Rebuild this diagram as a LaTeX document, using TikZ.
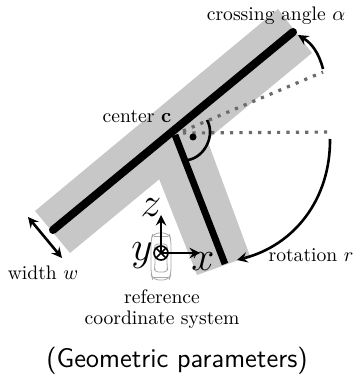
\documentclass[tikz,border=0pt]{standalone}
\definecolor{roadgray}{gray}{0.78}
\definecolor{dotgray}{gray}{0.42}
\definecolor{cargray}{gray}{0.66}
\tikzset{
	road/.style={fill=roadgray,draw=none},
	centerline/.style={line width=4pt,black,line cap=round},
	refline/.style={line width=1.6pt,dotgray,dash pattern=on 1.6pt off 3.1pt},
	dimarrow/.style={line width=1.3pt,black,<->},
	bendarrow/.style={line width=1.3pt,black,->},
	axisarrow/.style={line width=1.3pt,black,->},
	carline/.style={line width=0.4pt,cargray},
	bigmath/.style={font=\fontsize{20}{20}\selectfont},
	textlabel/.style={font=\fontsize{9.8}{11}\selectfont}
}
\begin{document}
\begin{tikzpicture}[>=stealth,line join=round,x=0.5pt,y=-0.5pt]
	\useasboundingbox (0,0) rectangle (355,379);
	\coordinate (A1) at (35,211);
	\coordinate (A2) at (70,253);
	\coordinate (A3) at (312,53);
	\coordinate (A4) at (278,9);
	\coordinate (B1) at (150,156);
	\coordinate (B2) at (197,275);
	\coordinate (B3) at (250,256);
	\coordinate (B4) at (205,134);
	\coordinate (S) at (53,230);
	\coordinate (E) at (293,32);
	\coordinate (C) at (175,135);
	\coordinate (F) at (225,264);
	\coordinate (O) at (183,131);
	\coordinate (P) at (323,72);
	\coordinate (Q) at (333,132);
	\coordinate (O2) at (183,133);
	\coordinate (M) at (193,137);
	\coordinate (R1) at (207,120);
	\coordinate (R2) at (188,160);
	\coordinate (W1) at (28,217);
	\coordinate (W2) at (62,258);
	\coordinate (Y) at (161,253);
	\coordinate (Z) at (161,215);
	\coordinate (X) at (200,253);
	\coordinate (G1) at (330,139);
	\coordinate (G2) at (237,260);
	\coordinate (H1) at (323,69);
	\coordinate (H2) at (298,35);

	\fill[road] (A1)--(A2)--(A3)--(A4)--cycle;
	\fill[road] (B1)--(B2)--(B3)--(B4)--cycle;

	% car below the axes
	\draw[carline,rounded corners=3pt] (151,240)--(153,233)--(169,233)--(171,240)--(171,274)--(169,280)--(153,280)--(151,274)--cycle;
	\draw[carline,rounded corners=2pt] (154,244)--(168,244)--(167,252)--(167,266)--(168,272)--(154,272)--(155,266)--(155,252)--cycle;
	\draw[carline] (154,236)--(168,236) (154,277)--(168,277);

	\draw[centerline] (S)--(E);
	\draw[line width=3.4pt,black] (C)--(F);
	\draw[refline] (O2)--(Q);
	\draw[refline] (O)--(P);

	\fill[black] (M) circle (3.5);
	\draw[line width=1.3pt,black] (R1) to[bend left=55] (R2);

	\draw[bendarrow] (H1) to[bend right=22] (H2);
	\draw[bendarrow] (G1) to[bend left=38] (G2);
	\draw[dimarrow] (W1)--(W2);

	\draw[axisarrow] (Y)--(Z);
	\draw[axisarrow] (Y)--(X);
	\draw[line width=0.8pt,black] (Y) circle (7);
	\draw[line width=0.8pt,black] (156,248)--(166,258) (156,258)--(166,248);

	\node[textlabel] (alphalabel) at (276,16) {crossing angle $\alpha$};
	\node[textlabel] (centerlabel) at (137,117) {center $\mathbf{c}$};
	\node[textlabel] (widthlabel) at (43,273) {width $w$};
	\node[textlabel] (rotationlabel) at (311,255) {rotation $r$};
	\node[textlabel] (reflabel) at (162,297) {reference};
	\node[textlabel] (coordlabel) at (162,320) {coordinate system};
	\node[bigmath] (zlabel) at (151,208) {$z$};
	\node[bigmath] (ylabel) at (142,256) {$y$};
	\node[bigmath] (xlabel) at (203,262) {$x$};
	\node[font=\fontsize{13.5}{13.5}\selectfont\sffamily] (caption) at (177,361) {(Geometric parameters)};
\end{tikzpicture}
\end{document}
